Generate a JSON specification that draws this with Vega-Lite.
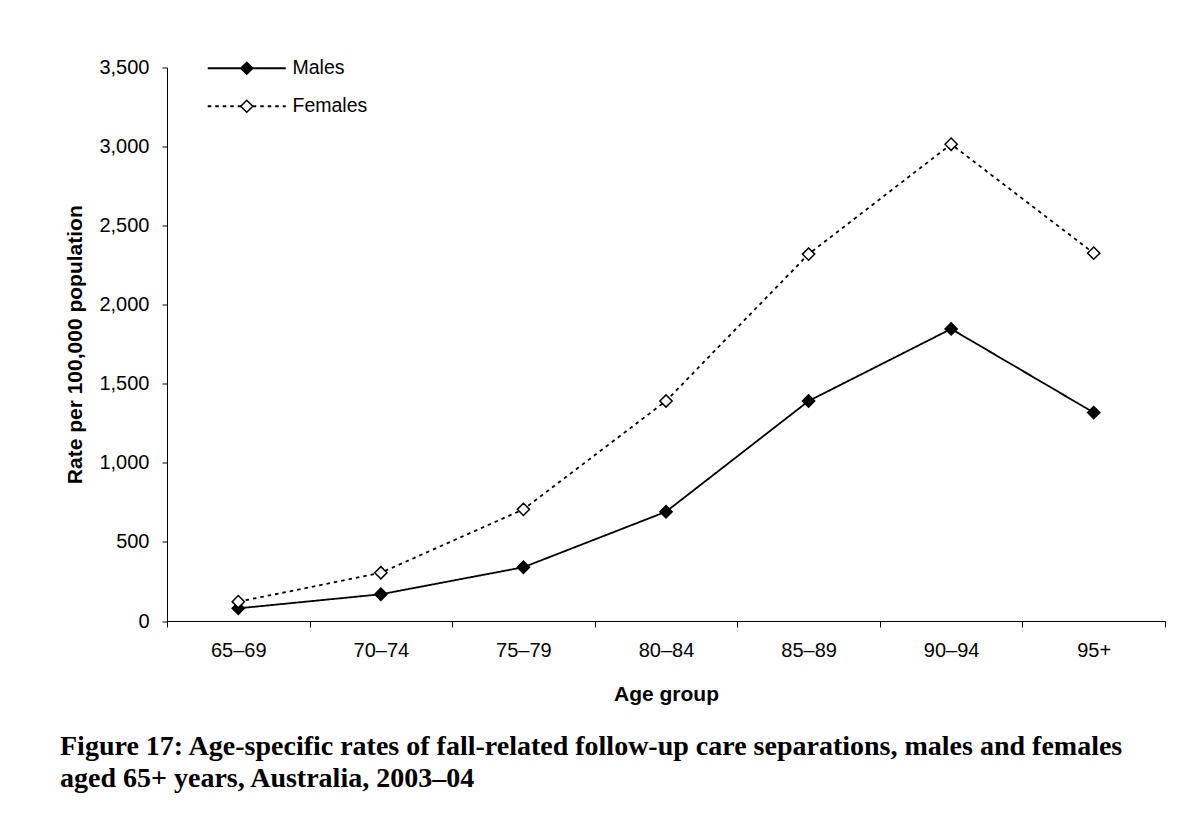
{
  "$schema": "https://vega.github.io/schema/vega-lite/v6.json",
  "width": 998,
  "height": 553.5,
  "autosize": {"type": "none"},
  "padding": {"left": 167, "top": 67.5, "right": 37, "bottom": 195},
  "background": "white",
  "config": {"view": {"stroke": null}, "font": "Liberation Sans"},
  "title": {
    "text": ["Figure 17: Age-specific rates of fall-related follow-up care separations, males and females", "aged 65+ years, Australia, 2003–04"],
    "orient": "bottom",
    "anchor": "start",
    "frame": "group",
    "dx": -107,
    "offset": 28.5,
    "font": "Liberation Serif",
    "fontSize": 28,
    "fontWeight": "bold",
    "lineHeight": 32,
    "color": "black"
  },
  "data": {
    "values": [
      {"age": "65–69", "sex": "Males", "rate": 80},
      {"age": "70–74", "sex": "Males", "rate": 169},
      {"age": "75–79", "sex": "Males", "rate": 340},
      {"age": "80–84", "sex": "Males", "rate": 691},
      {"age": "85–89", "sex": "Males", "rate": 1391},
      {"age": "90–94", "sex": "Males", "rate": 1847},
      {"age": "95+", "sex": "Males", "rate": 1318},
      {"age": "65–69", "sex": "Females", "rate": 122},
      {"age": "70–74", "sex": "Females", "rate": 305},
      {"age": "75–79", "sex": "Females", "rate": 706},
      {"age": "80–84", "sex": "Females", "rate": 1391},
      {"age": "85–89", "sex": "Females", "rate": 2320},
      {"age": "90–94", "sex": "Females", "rate": 3015},
      {"age": "95+", "sex": "Females", "rate": 2326}
    ]
  },
  "encoding": {
    "x": {
      "field": "age",
      "type": "nominal",
      "sort": ["65–69", "70–74", "75–79", "80–84", "85–89", "90–94", "95+"],
      "scale": {"paddingInner": 0, "paddingOuter": 0},
      "axis": {
        "title": "Age group",
        "titleFontSize": 21,
        "titleFontWeight": "bold",
        "titleColor": "black",
        "titlePadding": 23,
        "labelAngle": 0,
        "labelFontSize": 20,
        "labelColor": "black",
        "labelPadding": 13,
        "tickSize": 6,
        "tickBand": "extent",
        "tickColor": "black",
        "domainColor": "black",
        "grid": false
      }
    },
    "y": {
      "field": "rate",
      "type": "quantitative",
      "scale": {"domain": [0, 3500], "nice": false},
      "axis": {
        "title": "Rate per 100,000 population",
        "titleFontSize": 21,
        "titleFontWeight": "bold",
        "titleColor": "black",
        "titlePadding": 13,
        "values": [0, 500, 1000, 1500, 2000, 2500, 3000, 3500],
        "format": ",.0f",
        "labelFontSize": 20,
        "labelColor": "black",
        "labelPadding": 13,
        "tickSize": 5,
        "tickColor": "black",
        "domainColor": "black",
        "grid": false
      }
    }
  },
  "layer": [
    {
      "mark": {"type": "line", "color": "black", "strokeWidth": 1.8},
      "encoding": {
        "strokeDash": {
          "field": "sex",
          "type": "nominal",
          "scale": {"domain": ["Males", "Females"], "range": [[1, 0], [3.5, 4]]},
          "legend": {
            "title": null,
            "orient": "none",
            "legendX": 70,
            "legendY": -9,
            "padding": 0,
            "symbolType": "M-6.5,0L6.5,0",
            "symbolSize": 144,
            "symbolStrokeColor": "black",
            "symbolStrokeWidth": 1.8,
            "labelOffset": 36,
            "labelFontSize": 19.5,
            "labelColor": "black",
            "rowPadding": 17,
            "zindex": 0
          }
        }
      }
    },
    {
      "mark": {"type": "point", "shape": "diamond", "size": 150, "filled": true, "stroke": "black", "strokeWidth": 1.5, "opacity": 1},
      "encoding": {
        "fill": {
          "field": "sex",
          "type": "nominal",
          "sort": ["Males", "Females"],
          "scale": {"range": ["black", "white"]},
          "legend": {
            "title": null,
            "orient": "none",
            "legendX": 70,
            "legendY": -9,
            "padding": 0,
            "symbolType": "diamond",
            "symbolSize": 144,
            "symbolStrokeColor": "black",
            "symbolStrokeWidth": 1.5,
            "labelOffset": 36,
            "labelFontSize": 19.5,
            "labelOpacity": 0,
            "rowPadding": 17,
            "zindex": 1
          }
        }
      }
    }
  ]
}
